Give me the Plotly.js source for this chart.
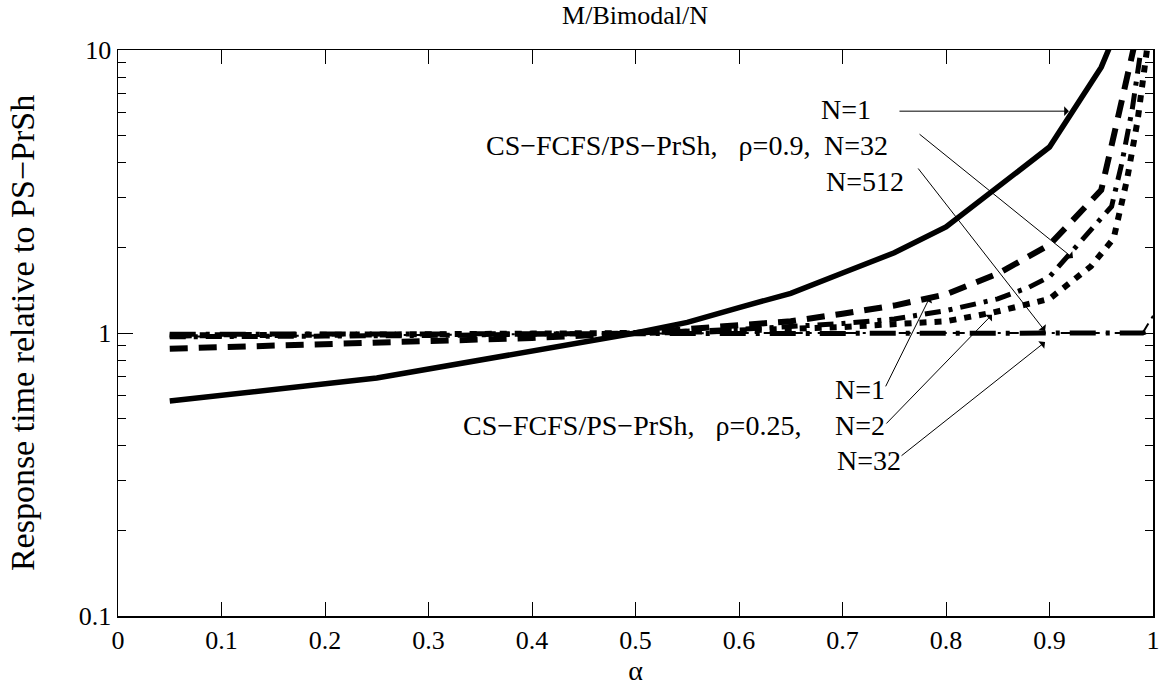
<!DOCTYPE html>
<html>
<head>
<meta charset="utf-8">
<script src="https://cdn.plot.ly/plotly-3.0.1.min.js"></script>
<style>html,body{margin:0;padding:0;background:#fff;}#chart{width:1161px;height:696px;}</style>
</head>
<body>
<div id="chart"></div>
<script>
// ρ=0.9, N=1 (solid)
const alphaSolid = [0.05, 0.25, 0.5, 0.55, 0.6, 0.65, 0.7, 0.75, 0.8, 0.9, 0.95, 0.97];
const respSolid  = [0.575, 0.693, 1.0, 1.09, 1.23, 1.38, 1.63, 1.92, 2.37, 4.54, 8.7, 13];

// dashed (ρ=0.25, N=1)
const alphaDashed = [0.05, 0.1, 0.2, 0.3, 0.4, 0.5, 0.6, 0.65, 0.7, 0.75, 0.8, 0.85, 0.9, 0.95, 0.96, 0.98, 0.99];
const respDashed  = [0.88, 0.89, 0.91, 0.93, 0.96, 1.0, 1.06, 1.1, 1.17, 1.25, 1.37, 1.62, 2.05, 3.2, 4.6, 9.6, 14];

// dash-dot (ρ=0.9, N=32)
const alphaDashDot = [0.05, 0.1, 0.2, 0.3, 0.4, 0.5, 0.6, 0.7, 0.75, 0.8, 0.85, 0.88, 0.9, 0.92, 0.94, 0.96, 0.97, 0.98, 0.99];
const respDashDot  = [0.97, 0.97, 0.975, 0.98, 0.99, 1.0, 1.03, 1.08, 1.12, 1.2, 1.32, 1.45, 1.58, 1.92, 2.3, 2.8, 4.0, 6.2, 11];

// dotted (ρ=0.25, N=2)
const alphaDotted = [0.05, 0.1, 0.2, 0.3, 0.4, 0.5, 0.6, 0.7, 0.8, 0.845, 0.9, 0.94, 0.962, 0.975, 0.985, 0.992, 0.997];
const respDotted  = [0.98, 0.98, 0.985, 0.99, 0.995, 1.0, 1.02, 1.05, 1.1, 1.18, 1.32, 1.72, 2.16, 3.5, 5.6, 8.4, 12];

// long dash-dot (ρ=0.9, N=512)
const alphaFlatA = [0.05, 0.1, 0.2, 0.3, 0.4, 0.5, 0.6, 0.7, 0.8, 0.9, 0.95, 0.99, 1.0];
const respFlatA  = [0.99, 0.99, 0.995, 1.0, 1.0, 1.0, 1.0, 1.0, 1.0, 1.0, 1.0, 1.0, 1.03];

// thin dash-dot (ρ=0.25, N=32)
const alphaFlatB = [0.05, 0.1, 0.2, 0.3, 0.4, 0.5, 0.6, 0.7, 0.8, 0.9, 0.95, 0.99, 1.0];
const respFlatB  = [0.97, 0.975, 0.98, 0.985, 0.99, 1.0, 1.0, 1.0, 1.0, 1.0, 1.0, 1.0, 1.15];

const xTickVals = [0, 0.1, 0.2, 0.3, 0.4, 0.5, 0.6, 0.7, 0.8, 0.9, 1];
const yTickVals = [0.1, 1, 10];
const yTickText = ["0.1", "1", "10"];
const yMinorVals = [0.2,0.3,0.4,0.5,0.6,0.7,0.8,0.9,2,3,4,5,6,7,8,9];

const FONT = "Liberation Serif, serif";

function tr(x, y, width, dash, name) {
  return {x: x, y: y, type: 'scatter', mode: 'lines', name: name, showlegend: false,
          line: {color: '#000', width: width, dash: dash}};
}

const data = [
  tr(alphaFlatB, respFlatB, 2, '12px,6px,3px,6px', 'ρ=0.25, N=32'),
  tr(alphaFlatA, respFlatA, 5, '26px,10px,4px,10px', 'ρ=0.9, N=512'),
  tr(alphaDotted, respDotted, 6, '7px,8px', 'ρ=0.25, N=2'),
  tr(alphaDashDot, respDashDot, 5, '16px,8px,4px,8px', 'ρ=0.9, N=32'),
  tr(alphaDashed, respDashed, 6, '18px,11px', 'ρ=0.25, N=1'),
  tr(alphaSolid, respSolid, 5.5, 'solid', 'ρ=0.9, N=1')
];

const L = Math.log10;
function arrow(tx, ty, hx, hy) {
  return {x: hx, y: L(hy), ax: tx, ay: L(ty), xref: 'x', yref: 'y', axref: 'x', ayref: 'y',
          text: '', showarrow: true, arrowhead: 1, arrowsize: 1.6, arrowwidth: 1, arrowcolor: '#000'};
}
function label(x, y, text, anchor) {
  return {x: x, y: L(y), xref: 'x', yref: 'y', text: text, showarrow: false,
          xanchor: anchor, yanchor: 'middle', font: {family: FONT, size: 28, color: '#000'}};
}

const annotations = [
  label(0.677, 6.14, 'N=1', 'left'),
  label(0.68, 4.58, 'N=32', 'left'),
  label(0.682, 3.44, 'N=512', 'left'),
  label(0.671, 4.58, 'CS−FCFS/PS−PrSh,   ρ=0.9,', 'right'),
  label(0.691, 0.63, 'N=1', 'left'),
  label(0.691, 0.473, 'N=2', 'left'),
  label(0.693, 0.353, 'N=32', 'left'),
  label(0.662, 0.473, 'CS−FCFS/PS−PrSh,   ρ=0.25,', 'right'),
  arrow(0.7536, 6.08, 0.9188, 6.08),
  arrow(0.773, 5.09, 0.9227, 1.84),
  arrow(0.772, 3.86, 0.8957, 1.016),
  arrow(0.741, 0.64, 0.7845, 1.34),
  arrow(0.741, 0.473, 0.8444, 1.16),
  arrow(0.7556, 0.365, 0.8957, 0.929)
];

const layout = {
  width: 1161, height: 696,
  margin: {l: 118, r: 8, t: 50, b: 80},
  paper_bgcolor: '#fff', plot_bgcolor: '#fff',
  font: {family: FONT, color: '#000', size: 26},
  title: {text: 'M/Bimodal/N', x: 0.547, xanchor: 'center', y: 0.978, yanchor: 'middle',
          font: {family: FONT, size: 26, color: '#000'}},
  xaxis: {
    range: [0, 1], tickmode: 'array', tickvals: xTickVals, ticks: 'inside', ticklen: 14, tickwidth: 1,
    tickcolor: '#000', showline: true, linecolor: '#000', linewidth: 1.5, mirror: 'ticks',
    showgrid: false, zeroline: false, tickfont: {family: FONT, size: 26, color: '#000'},
    title: {text: 'α', standoff: 0, font: {family: FONT, size: 28, color: '#000'}}
  },
  yaxis: {
    type: 'log', range: [-1, 1], tickmode: 'array', tickvals: yTickVals, ticktext: yTickText,
    ticks: 'inside', ticklen: 15, tickwidth: 1, tickcolor: '#000',
    minor: {tickmode: 'array', tickvals: yMinorVals, ticks: 'inside', ticklen: 8, tickwidth: 1, tickcolor: '#000', showgrid: false},
    showline: true, linecolor: '#000', linewidth: 1.5, mirror: 'ticks',
    showgrid: false, zeroline: false, tickfont: {family: FONT, size: 26, color: '#000'},
    title: {text: 'Response time relative to PS−PrSh', standoff: 34, font: {family: FONT, size: 34, color: '#000'}}
  },
  annotations: annotations
};

Plotly.newPlot('chart', data, layout, {displayModeBar: false, staticPlot: true});
</script>
</body>
</html>
